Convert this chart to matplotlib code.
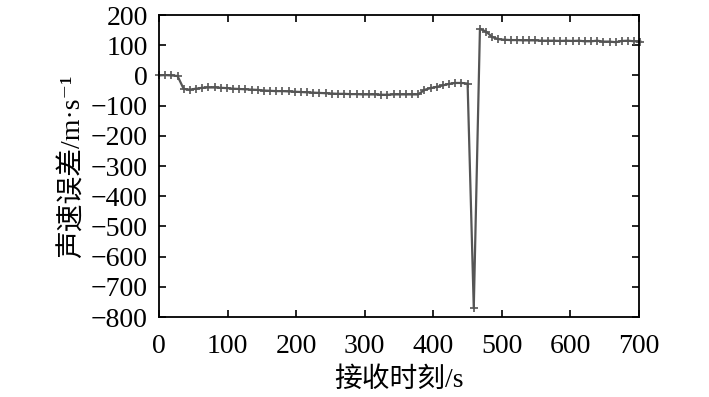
import numpy as np
import matplotlib.pyplot as plt

# receive time (s), sampled every 9 s
recv_time = np.arange(0, 703, 9)

# sound speed error (m/s)
speed_err = [
    0, 1, 0, -2, -45, -47, -44, -41, -40, -40,
    -41, -42, -44, -45, -46, -47, -48, -50, -51, -52,
    -52, -53, -54, -55, -56, -57, -58, -59, -60, -61,
    -61, -62, -62, -63, -63, -63, -64, -64, -63, -63,
    -63, -63, -63, -48, -42, -38, -33, -28, -25, -25,
    -27, -770, 154, 145, 127, 120, 118, 117, 117, 116,
    116, 116, 115, 115, 115, 114, 115, 114, 115, 113,
    113, 115, 112, 112, 110, 114, 115, 113, 112,
]

fig = plt.figure(figsize=(7.09, 3.97), dpi=100)
ax = fig.add_axes([0.2243, 0.2015, 0.677, 0.7607])

ax.plot(recv_time, speed_err, color='#555555', linewidth=1.6,
        marker='+', markersize=6, markeredgewidth=1.2, clip_on=False)

ax.set_xlim(0, 700)
ax.set_ylim(-800, 200)
ax.set_xticks(range(0, 701, 100))
ax.set_yticks(range(-800, 201, 100))
ax.tick_params(direction='in', top=True, right=True, length=5, width=1.2,
               labelsize=20)
ax.tick_params(axis='x', pad=12)
ax.tick_params(axis='y', pad=8)
for lbl in ax.get_xticklabels() + ax.get_yticklabels():
    lbl.set_family('Liberation Serif')
for sp in ax.spines.values():
    sp.set_linewidth(1.3)

fam = ['Liberation Serif', 'Noto Sans CJK SC', 'DejaVu Serif']
ax.set_xlabel('接收时刻/s', family=fam, fontsize=20, labelpad=6)
ax.set_ylabel('声速误差/m·s⁻¹', family=fam, fontsize=20, labelpad=4)

plt.savefig('out.png', dpi=100)
